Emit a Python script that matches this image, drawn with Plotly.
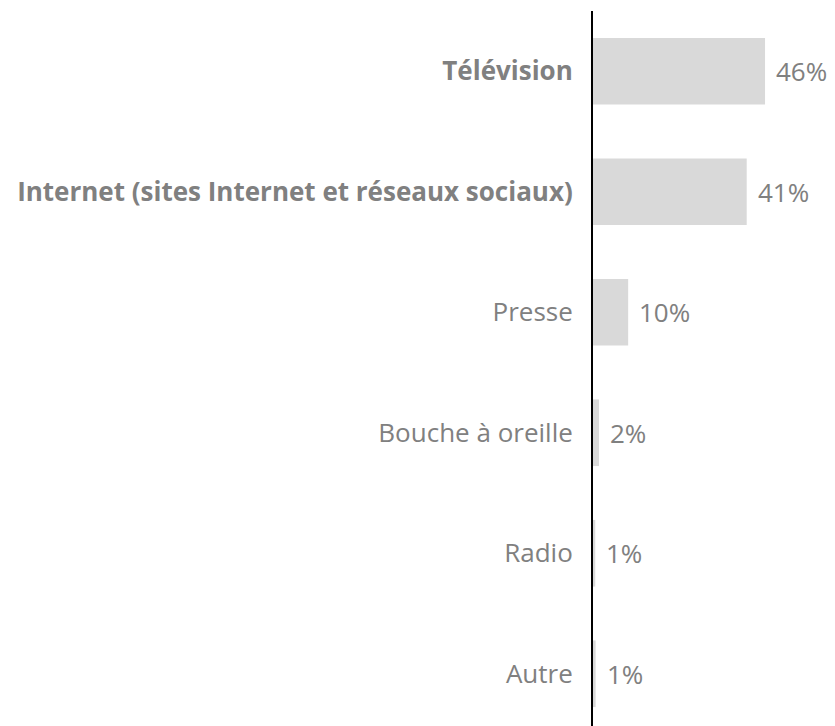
import plotly.graph_objects as go

# data
categories = ["Télévision", "Internet (sites Internet et réseaux sociaux)", "Presse",
              "Bouche à oreille", "Radio", "Autre"]
bold = [True, True, False, False, False, False]
values = [46, 41.1, 9.4, 1.6, 0.6, 0.7]
value_labels = ["46%", "41%", "10%", "2%", "1%", "1%"]

grey_text = "#808080"
font_family = "Open Sans"

ticktext = [f"<b>{c}</b>" if b else c for c, b in zip(categories, bold)]

fig = go.Figure()
fig.add_trace(go.Bar(
    x=values, y=categories, orientation="h",
    marker=dict(color="#d9d9d9", line=dict(width=0)),
    hoverinfo="skip",
))

for c, v, t in zip(categories, values, value_labels):
    fig.add_annotation(x=v, y=c, text=t, showarrow=False,
                       xanchor="left", yanchor="middle", xshift=9,
                       font=dict(family=font_family, size=26, color=grey_text))

# page body has an 8px margin, so offsets are shifted by that
fig.update_layout(
    width=835, height=726,
    margin=dict(l=585, r=0, t=3, b=0, autoexpand=False),
    plot_bgcolor="white", paper_bgcolor="white",
    bargap=0.447,
    showlegend=False,
    font=dict(family=font_family, size=26, color=grey_text),
    xaxis=dict(range=[0, 250 / 3.74], visible=False, fixedrange=True),
    yaxis=dict(
        categoryorder="array", categoryarray=categories[::-1],
        tickmode="array", tickvals=categories, ticktext=ticktext,
        showline=True, linecolor="black", linewidth=2,
        showgrid=False, ticks="", ticklabelstandoff=13,
        tickfont=dict(family=font_family, size=26, color=grey_text),
        automargin=False,
    ),
)

fig.write_html("out.html")
